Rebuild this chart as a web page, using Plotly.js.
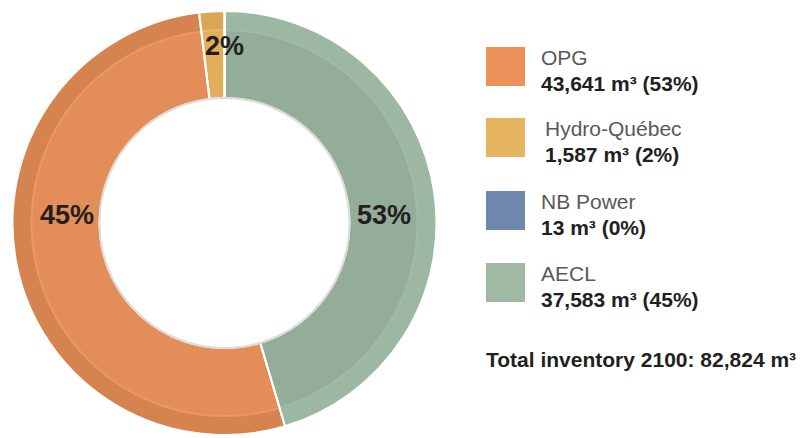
<!DOCTYPE html>
<html>
<head>
<meta charset="utf-8">
<script src="https://cdn.plot.ly/plotly-3.0.1.min.js"></script>
<style>
  html, body { margin: 0; padding: 0; background: #fff; }
  #chart { width: 804px; height: 438px; }
</style>
</head>
<body>
<div id="chart"></div>
<script>
// Data
const companies = ['OPG', 'Hydro-Québec', 'NB Power', 'AECL']
const volumes = [43641, 1587, 13, 37583]
const shareText = ['53%', '2%', '0%', '45%']
// labels as printed on the ring itself
const ringText = ['45%', '2%', '', '53%']
const totalLabel = 'Total inventory 2100: 82,824 m³'

// Colours: main fill, darker outer band, thin light rim line
const mainColors = ['#E38E59', '#E2AE5C', '#6F88AE', '#93AD99']
const bandColors = ['#D5834F', '#D9A656', '#6A83A8', '#9CB7A2']
const rimColors = ['#EC9863', '#E9B766', '#7890B4', '#A1BBA6']
const legendColors = ['#EB9159', '#E5B45F', '#6E87AD', '#9FB9A3']

// order of slices clockwise from 12 o'clock
const sliceOrder = [2, 3, 0, 1]

const W = 804, H = 438
const cx = 224.5, cy = 223
const R = 212, Rband = 192, Rhole = 125

const px = x => x / W
const py = y => 1 - y / H

function ring(rOuter, rInner, colors, lineWidth) {
    return {
        type: 'pie',
        labels: sliceOrder.map(i => companies[i]),
        values: sliceOrder.map(i => volumes[i]),
        marker: {
            colors: sliceOrder.map(i => colors[i]),
            line: { color: '#ffffff', width: lineWidth }
        },
        sort: false,
        direction: 'clockwise',
        rotation: 0,
        hole: rInner / rOuter,
        textinfo: 'none',
        hoverinfo: 'label+value',
        showlegend: false,
        domain: {
            x: [px(cx - rOuter), px(cx + rOuter)],
            y: [py(cy + rOuter), py(cy - rOuter)]
        }
    }
}

const transparent = companies.map(() => 'rgba(0,0,0,0)')
const traces = [
    ring(R, Rhole, bandColors, 0),
    ring(Rband + 2, Rhole, rimColors, 0),
    ring(Rband, Rhole, mainColors, 0),
    ring(R, Rhole, transparent, 2)   // white slice separators and outer edge
]

// labels printed on the ring
const ringPos = { 0: [67, 215], 1: [225, 46], 3: [384, 215] }
const annotations = []
Object.keys(ringPos).forEach(k => {
    const [x, y] = ringPos[k]
    annotations.push({
        text: '<b>' + ringText[k] + '</b>',
        x: px(x), y: py(y), xref: 'paper', yref: 'paper',
        xanchor: 'center', yanchor: 'middle', showarrow: false,
        font: { family: 'Liberation Sans, Arial, sans-serif', size: 27, color: '#231f20' }
    })
})

// custom legend with big squares and two-line entries
const shapes = []
const legendTop = [47, 118, 191, 263]
companies.forEach((name, i) => {
    const top = legendTop[i]
    shapes.push({
        type: 'rect', xref: 'paper', yref: 'paper',
        x0: px(486), x1: px(525), y0: py(top + 39), y1: py(top),
        fillcolor: legendColors[i], line: { width: 0 }
    })
    const tx = i === 1 ? 543 : 539
    annotations.push({
        text: name,
        x: px(tx), y: py(top + 24), xref: 'paper', yref: 'paper',
        xanchor: 'left', yanchor: 'bottom', showarrow: false,
        font: { family: 'Liberation Sans, Arial, sans-serif', size: 21, color: '#58595b' }
    })
    annotations.push({
        text: '<b>' + volumes[i].toLocaleString('en-US') + ' m³ (' + shareText[i] + ')</b>',
        x: px(tx), y: py(top + 50), xref: 'paper', yref: 'paper',
        xanchor: 'left', yanchor: 'bottom', showarrow: false,
        font: { family: 'Liberation Sans, Arial, sans-serif', size: 21, color: '#231f20' }
    })
})

annotations.push({
    text: '<b>' + totalLabel + '</b>',
    x: px(484), y: py(373), xref: 'paper', yref: 'paper',
    xanchor: 'left', yanchor: 'bottom', showarrow: false,
    font: { family: 'Liberation Sans, Arial, sans-serif', size: 21, color: '#231f20' }
})

// faint edge around the hole
shapes.push({
    type: 'circle', xref: 'paper', yref: 'paper',
    x0: px(cx - Rhole), x1: px(cx + Rhole), y0: py(cy + Rhole), y1: py(cy - Rhole),
    line: { color: '#dcdcdc', width: 2 }, fillcolor: 'rgba(0,0,0,0)'
})

const layout = {
    width: W,
    height: H,
    margin: { t: 0, r: 0, b: 0, l: 0 },
    paper_bgcolor: '#ffffff',
    showlegend: false,
    annotations: annotations,
    shapes: shapes
}

Plotly.newPlot('chart', traces, layout, { displayModeBar: false, staticPlot: true })
</script>
</body>
</html>
